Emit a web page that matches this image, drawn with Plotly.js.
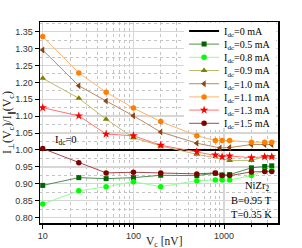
<!DOCTYPE html>
<html><head><meta charset="utf-8">
<script src="https://cdn.plot.ly/plotly-3.0.1.min.js"></script>
<style>html,body{margin:0;padding:0;background:#fff}#chart{width:302px;height:248px}</style>
</head><body><div id="chart"></div>
<script>
// ---- data ----
const refName = 'I<sub>dc</sub>=0 mA';
const refX = [5, 5000];
const refY = [1, 1];

const xAll = [10, 25, 50, 100, 200, 500, 800, 950, 1150, 2000, 2800, 3350];
const xBrown = [10, 25, 50, 100, 200, 500, 900, 1150, 2000, 2800, 3350];
const xOlive = [10, 25, 50, 100, 200, 500, 1150, 2000, 2800, 3350];

const y05 = [0.895, 0.918, 0.915, 0.918, 0.925, 0.924, 0.931, 0.926, 0.927, 0.947, 0.951, 0.953];
const y08 = [0.840, 0.879, 0.891, 0.906, 0.891, 0.909, 0.911, 0.911, 0.911, 0.924, 0.938, 0.939];
const y09 = [1.212, 1.153, 1.091, 1.036, 1.012, 0.987, 0.969, 0.969, 0.980, 0.980];
const y10 = [1.296, 1.190, 1.145, 1.101, 1.053, 1.020, 1.006, 1.007, 1.016, 1.016, 1.016];
const y11 = [1.336, 1.228, 1.171, 1.124, 1.084, 1.042, 1.028, 1.028, 1.028, 1.023, 1.023, 1.023];
const y13 = [1.125, 1.101, 1.047, 1.042, 1.014, 0.995, 0.985, 0.980, 0.982, 0.977, 0.980, 0.980];
const y15 = [1.004, 0.962, 0.932, 0.934, 0.932, 0.929, 0.932, 0.924, 0.924, 0.935, 0.936, 0.936];

const names = ['I<sub>dc</sub>=0.5 mA','I<sub>dc</sub>=0.8 mA','I<sub>dc</sub>=0.9 mA','I<sub>dc</sub>=1.0 mA',
               'I<sub>dc</sub>=1.1 mA','I<sub>dc</sub>=1.3 mA','I<sub>dc</sub>=1.5 mA'];

const xTickVals = [10, 100, 1000];
const xTickText = ['10', '100', '1000'];
const xMinorVals = [20,30,40,50,60,70,80,90,200,300,400,500,600,700,800,900,2000,3000];

const xTitle = 'V<sub>c</sub> [nV]';
const yTitle = 'I<sub>\u22a5</sub>(V<sub>c</sub>)/I<sub>\u2225</sub>(V<sub>c</sub>)';
const notes = ['I<sub>dc</sub>=0', 'NiZr<sub>2</sub>', 'B=0.95 T', 'T=0.35 K'];

// ---- styles ----
const serif = 'Liberation Serif, Times New Roman, serif';
const sans = 'Liberation Sans, Arial, sans-serif';
function series(x, y, name, lineColor, mColor, symbol, size) {
  return {x: x, y: y, name: name, type: 'scatter', mode: 'lines+markers',
    line: {color: lineColor, width: 1},
    marker: {color: mColor, symbol: symbol, size: size, line: {width: 0}}};
}
const traces = [
  {x: refX, y: refY, name: refName, type: 'scatter', mode: 'lines', line: {color: '#000', width: 2}},
  series(xAll, y05, names[0], '#4f8f4f', '#006400', 'square', 5),
  series(xAll, y08, names[1], '#90ff90', '#00ff00', 'circle', 5.5),
  series(xOlive, y09, names[2], '#bcbc6a', '#808000', 'triangle-up', 6),
  series(xBrown, y10, names[3], '#b98a62', '#8b4513', 'triangle-left', 6),
  series(xAll, y11, names[4], '#ffb46a', '#ff8000', 'circle', 5.5),
  series(xAll, y13, names[5], '#ff7272', '#ff0000', 'star', 6.5),
  series(xAll, y15, names[6], '#a84848', '#800000', 'circle', 5.5)
];

const xRange = [0.970, 3.594];
const yRange = [0.7837, 1.3788];
const noteFont = {family: serif, size: 10.5, color: '#000'};
const layout = {
  width: 302, height: 248,
  margin: {l: 40, r: 24, t: 22, b: 25},
  paper_bgcolor: '#fff', plot_bgcolor: '#fff',
  showlegend: true,
  legend: {x: 0.992, xanchor: 'right', y: 0.993, yanchor: 'top', bgcolor: '#fff',
    borderwidth: 0, font: {family: serif, size: 10, color: '#000'}, itemwidth: 30, tracegroupgap: 0},
  xaxis: {type: 'log', range: xRange, tickmode: 'array', tickvals: xTickVals, ticktext: xTickText,
    ticks: 'outside', ticklen: 4, tickcolor: '#000', tickwidth: 1,
    showline: true, linecolor: '#000', linewidth: 1.5, mirror: true,
    showgrid: true, gridcolor: '#d6d6d6', gridwidth: 1.5, zeroline: false,
    tickfont: {family: sans, size: 9, color: '#333'},
    minor: {tickmode: 'array', tickvals: xMinorVals, ticks: 'outside', ticklen: 2.5, tickcolor: '#000',
      showgrid: true, gridcolor: '#c4c4c4', griddash: 'dot', gridwidth: 1}},
  yaxis: {range: yRange, tick0: 0.8, dtick: 0.05, tickformat: '.2f',
    ticks: 'outside', ticklen: 4, tickcolor: '#000',
    showline: true, linecolor: '#000', linewidth: 1.5, mirror: true,
    showgrid: true, gridcolor: '#d6d6d6', gridwidth: 1.5, zeroline: false,
    tickfont: {family: sans, size: 9, color: '#333'},
    minor: {tick0: 0.775, dtick: 0.05, ticks: '', showgrid: true, gridcolor: '#c4c4c4', griddash: 'dot', gridwidth: 1},
    title: {text: yTitle, font: {family: serif, size: 12, color: '#222'}, standoff: 4}},
  xaxis2: {type: 'log', overlaying: 'x', anchor: 'y', side: 'top', range: xRange,
    tickmode: 'array', tickvals: xTickVals, ticks: 'inside', ticklen: 4, tickcolor: '#000',
    showticklabels: false, showgrid: false, showline: false, zeroline: false,
    minor: {tickmode: 'array', tickvals: xMinorVals, ticks: 'inside', ticklen: 2.5, tickcolor: '#000', showgrid: false}},
  yaxis2: {overlaying: 'y', anchor: 'x', side: 'right', range: yRange, tick0: 0.8, dtick: 0.05,
    ticks: 'inside', ticklen: 4, tickcolor: '#000', showticklabels: false, showgrid: false, showline: false, zeroline: false},
  annotations: [
    {xref: 'paper', yref: 'paper', x: 0.52, y: 0, xanchor: 'center', yanchor: 'top', yshift: -9.5, text: xTitle, showarrow: false, font: {family: serif, size: 11.5, color: '#222'}},
    {xref: 'paper', yref: 'paper', x: 0.055, y: 0.41, xanchor: 'left', yanchor: 'middle', text: notes[0], showarrow: false, font: noteFont},
    {xref: 'paper', yref: 'paper', x: 0.855, y: 0.18, xanchor: 'left', yanchor: 'middle', text: notes[1], showarrow: false, font: noteFont},
    {xref: 'paper', yref: 'paper', x: 0.985, y: 0.11, xanchor: 'right', yanchor: 'middle', text: notes[2], showarrow: false, font: noteFont},
    {xref: 'paper', yref: 'paper', x: 0.985, y: 0.043, xanchor: 'right', yanchor: 'middle', text: notes[3], showarrow: false, font: noteFont}
  ]
};

Plotly.newPlot('chart', traces, layout, {staticPlot: true, displayModeBar: false}).then(function (gd) {
  // compact legend rows (reference legend uses ~13px line spacing)
  const items = gd.querySelectorAll('.legend .traces');
  items.forEach(function (el, i) {
    el.setAttribute('transform', 'translate(0,' + (7.5 + 13.2 * i) + ')');
  });
  const bg = gd.querySelector('.legend rect.bg');
  if (bg) bg.setAttribute('height', 105);
});
</script></body></html>
